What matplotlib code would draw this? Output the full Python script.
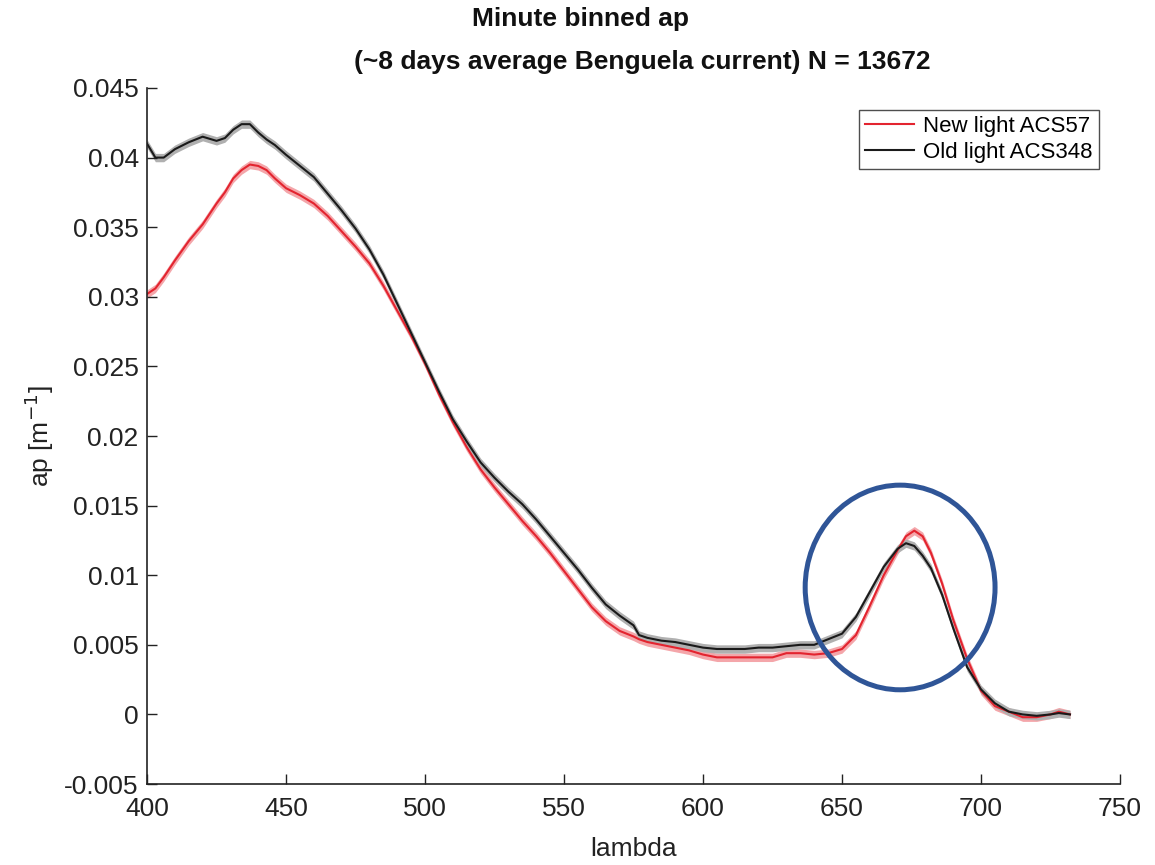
import numpy as np
import matplotlib
matplotlib.use("Agg")
import matplotlib.pyplot as plt
from matplotlib.patches import Ellipse

plt.rcParams['font.family'] = ['Liberation Sans', 'DejaVu Sans']

# wavelength (nm)
lam = [400, 403, 406, 410, 415, 420, 425, 428, 431, 434, 437, 440, 443, 446, 450,
       455, 460, 465, 470, 475, 480, 485, 490, 495, 500, 505, 510, 515, 520, 525,
       530, 535, 540, 545, 550, 555, 560, 565, 570, 575, 577, 580, 585, 590, 595,
       600, 605, 610, 615, 620, 625, 630, 635, 640, 645, 650, 655, 660, 665, 670,
       673, 676, 679, 682, 686, 690, 695, 700, 705, 710, 715, 720, 725, 728, 732]

# New light ACS57
ap_new = [0.0302, 0.0306, 0.0314, 0.0326, 0.0340, 0.0352, 0.0367, 0.0375, 0.0385, 0.0391,
          0.0395, 0.0394, 0.0391, 0.0385, 0.0378, 0.0373, 0.0367, 0.0358, 0.0347, 0.0336,
          0.0324, 0.0308, 0.0290, 0.0272, 0.0252, 0.0230, 0.0210, 0.0192, 0.0176, 0.0163,
          0.0151, 0.0139, 0.0128, 0.0116, 0.0103, 0.0090, 0.0077, 0.0067, 0.0060, 0.0056,
          0.0054, 0.0052, 0.0050, 0.0048, 0.0046, 0.0043, 0.0041, 0.0041, 0.0041, 0.0041,
          0.0041, 0.0044, 0.0044, 0.0043, 0.0044, 0.0047, 0.0057, 0.0078, 0.0100, 0.0118,
          0.0128, 0.0132, 0.0128, 0.0116, 0.0094, 0.0068, 0.0040, 0.0017, 0.0006, 0.0002,
          -0.0002, -0.0002, 0.0000, 0.0002, 0.0000]

# Old light ACS348
ap_old = [0.0410, 0.0400, 0.0400, 0.0406, 0.0411, 0.0415, 0.0412, 0.0414, 0.0420, 0.0424,
          0.0424, 0.0418, 0.0413, 0.0409, 0.0402, 0.0394, 0.0386, 0.0374, 0.0362, 0.0349,
          0.0334, 0.0316, 0.0295, 0.0274, 0.0253, 0.0232, 0.0212, 0.0196, 0.0181, 0.0170,
          0.0160, 0.0151, 0.0140, 0.0128, 0.0116, 0.0104, 0.0091, 0.0079, 0.0071, 0.0064,
          0.0057, 0.0055, 0.0053, 0.0052, 0.0050, 0.0048, 0.0047, 0.0047, 0.0047, 0.0048,
          0.0048, 0.0049, 0.0050, 0.0050, 0.0054, 0.0058, 0.0070, 0.0088, 0.0106, 0.0119,
          0.0123, 0.0121, 0.0114, 0.0105, 0.0086, 0.0062, 0.0034, 0.0018, 0.0008, 0.0002,
          0.0000, -0.0001, 0.0000, 0.0001, 0.0000]

err = 0.0003  # half width of shaded band

yticks = [-0.005, 0, 0.005, 0.01, 0.015, 0.02, 0.025, 0.03, 0.035, 0.04, 0.045]
ytick_labels = ['-0.005', '0', '0.005', '0.01', '0.015', '0.02', '0.025', '0.03',
                '0.035', '0.04', '0.045']
xticks = [400, 450, 500, 550, 600, 650, 700, 750]

lam = np.array(lam)
ap_new = np.array(ap_new)
ap_old = np.array(ap_old)

fig = plt.figure(figsize=(11.55, 8.65), dpi=100)
ax = fig.add_axes([0.1273, 0.0936, 0.8424, 0.8047])

ax.fill_between(lam, ap_new - err, ap_new + err, color='#f4a6aa', lw=0)
ax.fill_between(lam, ap_old - err, ap_old + err, color='#b0b0b0', lw=0)
ax.plot(lam, ap_new, color='#e3242f', lw=1.5, label='New light ACS57')
ax.plot(lam, ap_old, color='#1a1a1a', lw=1.5, label='Old light ACS348')

ax.add_patch(Ellipse((670.9, 0.00912), 68.3, 0.0147, fill=False,
                     edgecolor='#2f5597', lw=3.6, zorder=5))

ax.set_xlim(400, 750)
ax.set_ylim(-0.005, 0.045)
ax.set_xticks(xticks)
ax.set_xticklabels([str(v) for v in xticks])
ax.set_yticks(yticks)
ax.set_yticklabels(ytick_labels)
ax.tick_params(direction='in', labelsize=19, length=7, width=1, colors='#222222')
ax.tick_params(axis='x', pad=9)
ax.tick_params(axis='y', pad=6)
ax.spines['top'].set_visible(False)
ax.spines['right'].set_visible(False)
for s in ['left', 'bottom']:
    ax.spines[s].set_linewidth(1.2)
    ax.spines[s].set_color('#222222')

ax.set_xlabel('lambda', fontsize=19, color='#222222', labelpad=12)
ax.set_ylabel('ap [m$^{-1}$]', fontsize=19, color='#222222', labelpad=6)

fig.text(0.503, 0.978, 'Minute binned ap', ha='center', va='center',
         fontsize=19, fontweight='bold', color='#111111')
fig.text(0.556, 0.928, '(~8 days average Benguela current) N = 13672', ha='center',
         va='center', fontsize=19, fontweight='bold', color='#111111')

leg = ax.legend(loc='upper right', fontsize=16, frameon=True, fancybox=False,
                edgecolor='#222222', handlelength=2.2, borderpad=0.3,
                labelspacing=0.2, handletextpad=0.4, bbox_to_anchor=(0.99, 0.985))
leg.get_frame().set_linewidth(1.0)

fig.savefig('out.png', dpi=100)
